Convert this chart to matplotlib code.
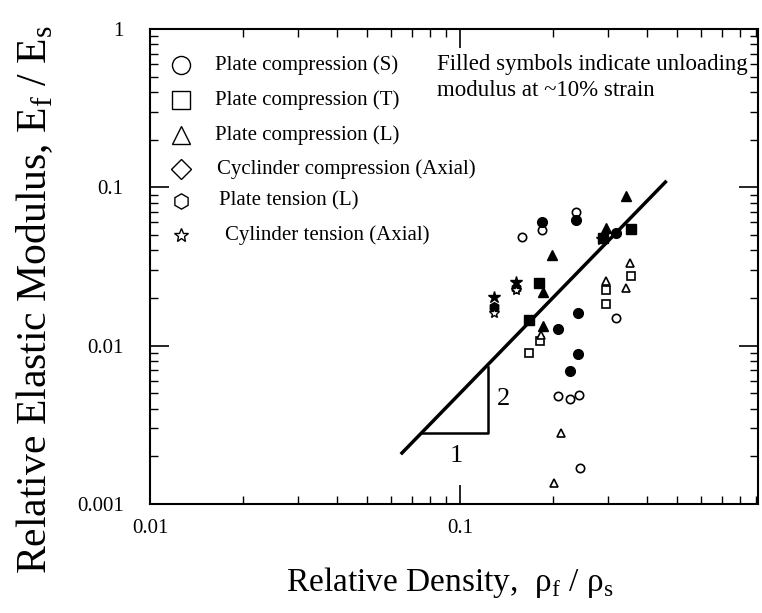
import matplotlib.pyplot as plt
import matplotlib.ticker as ticker

plt.rcParams['font.family'] = ['Liberation Serif', 'DejaVu Serif']
plt.rcParams['mathtext.fontset'] = 'custom'
plt.rcParams['mathtext.rm'] = 'Liberation Serif'

# data (relative density, relative modulus)
sc_open_x = [0.159, 0.184, 0.237, 0.319, 0.2065, 0.227, 0.2415, 0.243]
sc_open_y = [0.0488, 0.0538, 0.0702, 0.0149, 0.00483, 0.00459, 0.00488, 0.00168]
sc_fill_x = [0.184, 0.237, 0.319, 0.240, 0.2065, 0.240, 0.227]
sc_fill_y = [0.0607, 0.0622, 0.0513, 0.01616, 0.01275, 0.00886, 0.00695]

tc_open_x = [0.357, 0.295, 0.295, 0.181, 0.167]
tc_open_y = [0.0276, 0.0225, 0.0183, 0.01076, 0.00895]
tc_fill_x = [0.357, 0.180, 0.167, 0.290]
tc_fill_y = [0.0544, 0.0248, 0.01454, 0.0477]

lc_open_x = [0.353, 0.344, 0.295, 0.2116, 0.2014, 0.182]
lc_open_y = [0.0332, 0.0231, 0.0257, 0.0028, 0.00136, 0.0117]
lc_fill_x = [0.3425, 0.198, 0.295, 0.1846, 0.1846]
lc_fill_y = [0.0883, 0.0374, 0.0552, 0.0219, 0.01337]

lt_fill_x = [0.1286, 0.152]
lt_fill_y = [0.0176, 0.0232]

ct_open_x = [0.1286, 0.152]
ct_open_y = [0.0160, 0.0225]
ct_fill_x = [0.1286, 0.152, 0.288]
ct_fill_y = [0.0204, 0.0253, 0.0470]

fit_x = [0.065, 0.46]
fit_y = [0.0021, 0.108]

tri_x = [0.0752, 0.1233, 0.1233]
tri_y = [0.0028, 0.0028, 0.00737]

labels = ['Plate compression (S)', 'Plate compression (T)', 'Plate compression (L)',
          'Cyclinder compression (Axial)', 'Plate tension (L)', 'Cylinder tension (Axial)']
label_markers = ['o', 's', '^', 'D', 'h', '*']

fig = plt.figure(figsize=(7.62, 6.13), dpi=100)
ax = fig.add_axes([150/762, 109/613, 608/762, 475/613])
ax.set_xscale('log')
ax.set_yscale('log')
ax.set_xlim(0.01, 0.915)
ax.set_ylim(0.001, 1)

ms = 6
ax.plot(sc_open_x, sc_open_y, 'o', ms=ms, mfc='white', mec='k', mew=1.2, ls='none')
ax.plot(sc_fill_x, sc_fill_y, 'o', ms=ms + 1, mfc='k', mec='k', ls='none')
ax.plot(tc_open_x, tc_open_y, 's', ms=ms, mfc='white', mec='k', mew=1.2, ls='none')
ax.plot(tc_fill_x, tc_fill_y, 's', ms=ms + 1, mfc='k', mec='k', ls='none')
ax.plot(lc_open_x, lc_open_y, '^', ms=ms, mfc='white', mec='k', mew=1.2, ls='none')
ax.plot(lc_fill_x, lc_fill_y, '^', ms=ms + 1, mfc='k', mec='k', ls='none')
ax.plot(lt_fill_x, lt_fill_y, 'h', ms=ms + 1, mfc='k', mec='k', ls='none')
ax.plot(ct_fill_x, ct_fill_y, '*', ms=ms + 3, mfc='k', mec='k', ls='none')
ax.plot(ct_open_x, ct_open_y, '*', ms=ms + 2, mfc='white', mec='k', mew=1.0, ls='none')

ax.plot(fit_x, fit_y, 'k-', lw=2.5)
ax.plot(tri_x, tri_y, 'k-', lw=1.8)
ax.text(0.097, 0.0020, '1', fontsize=19, ha='center', va='center')
ax.text(0.138, 0.0046, '2', fontsize=19, ha='center', va='center')

# legend written as a list of symbols and labels
rows_y = [65, 100, 135, 169, 201, 235]
text_x = [215, 215, 215, 217, 219, 225]
sizes = [13, 13, 13, 10, 11, 10]
for lab, mk, py, tx, sz in zip(labels, label_markers, rows_y, text_x, sizes):
    ax.plot([(181 - 150) / 608], [(504 - py) / 475], mk, ms=sz, mfc='white',
            mec='k', mew=1.0, transform=ax.transAxes, clip_on=False)
    ax.text((tx - 150) / 608, (504 - py) / 475, lab, fontsize=15,
            ha='left', va='center', transform=ax.transAxes)

ax.text((437 - 150) / 608, (504 - 54) / 475,
        'Filled symbols indicate unloading\nmodulus at ~10% strain',
        fontsize=16.5, ha='left', va='top', linespacing=1.32, transform=ax.transAxes)

ax.tick_params(which='both', direction='in', top=True, right=True, labelsize=15)
ax.tick_params(axis='x', pad=11)
ax.tick_params(axis='y', pad=19)
ax.tick_params(which='major', length=14, width=1.2)
ax.tick_params(which='minor', length=6, width=1.0)
ax.xaxis.set_major_formatter(ticker.FuncFormatter(lambda v, p: f'{v:g}'))
ax.yaxis.set_major_formatter(ticker.FuncFormatter(lambda v, p: f'{v:g}'))
ax.xaxis.set_minor_formatter(ticker.NullFormatter())
for s in ax.spines.values():
    s.set_linewidth(1.5)

fig.text(450 / 762, 1 - 583 / 613, 'Relative Density,  ρ$_\\mathregular{f}$ / ρ$_\\mathregular{s}$',
         fontsize=24, ha='center', va='center')
fig.text(35 / 762, 1 - 300 / 613, 'Relative Elastic Modulus, E$_\\mathregular{f}$ / E$_\\mathregular{s}$',
         fontsize=30, ha='center', va='center', rotation=90)

fig.savefig('out.png', dpi=100)
